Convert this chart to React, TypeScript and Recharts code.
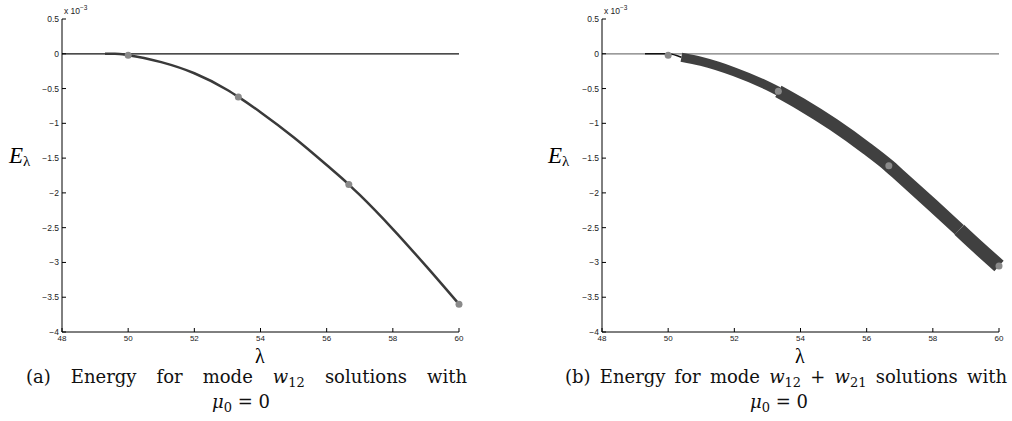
import React from "react"
import { ComposedChart, Line, Scatter, XAxis, YAxis, ReferenceLine } from "recharts"

// energy values are in units of 1e-3
const lambdaA = [49.3, 49.6, 50, 51, 52, 53, 53.33, 54, 55, 56, 56.67, 57, 58, 59, 60]
const energyA = [0, 0, -0.02, -0.12, -0.28, -0.52, -0.62, -0.84, -1.2, -1.6, -1.88, -2.03, -2.52, -3.05, -3.6]

const lambdaB = [49.3, 49.7, 50, 50.4, 51, 52, 53, 53.33, 54, 55, 56, 56.67, 57, 58, 58.8, 59, 60]
const energyB = [0, 0, 0, -0.05, -0.11, -0.26, -0.46, -0.54, -0.72, -1.02, -1.36, -1.61, -1.75, -2.18, -2.53, -2.62, -3.05]
// where the wide branches of (b) begin
const segmentStartsB = [49.3, 50.4, 53.33, 58.8, 60]
const segmentWidthsB = [1.5, 9, 13, 14]

const markerLambda = [50, 53.33, 56.67, 60]
const markerA = [-0.02, -0.62, -1.88, -3.6]
const markerB = [-0.02, -0.54, -1.61, -3.05]

const xTicks = [48, 50, 52, 54, 56, 58, 60]
const yTicks = [-4, -3.5, -3, -2.5, -2, -1.5, -1, -0.5, 0, 0.5]

const zip = (xs: number[], ys: number[]) => xs.map((x, i) => ({ x, y: ys[i] }))

const tickFont = "'Liberation Sans', Arial, sans-serif"
const serif = "'DejaVu Serif', 'Liberation Serif', serif"

const XTick = (props: any) => {
  const { x, y, payload } = props
  return (
    <g>
      <line x1={x} x2={x} y1={y} y2={y - 4} stroke="#000" />
      <text x={x} y={y + 9} textAnchor="middle" fontSize={8} fontFamily={tickFont} fill="#222">
        {payload.value}
      </text>
    </g>
  )
}

const YTick = (props: any) => {
  const { x, y, payload } = props
  const label = String(payload.value).replace("-", "\u2212")
  return (
    <g>
      <line x1={x} x2={x + 4} y1={y} y2={y} stroke="#000" />
      <text x={x - 3} y={y + 3} textAnchor="end" fontSize={8.5} fontFamily={tickFont} fill="#222">
        {label}
      </text>
    </g>
  )
}

const Dot = (props: any) => <circle cx={props.cx} cy={props.cy} r={3.5} fill="#8a8a8a" />

function EnergyChart({ axisX, children, zeroColor }: { axisX: number; children: React.ReactNode; zeroColor: string }) {
  // plot box: x from axisX to axisX + 397, y from 19 (0.5) to 332 (-4)
  const yw = 40
  return (
    <ComposedChart width={506} height={345} margin={{ top: 19, right: 506 - axisX - 397, bottom: 0, left: axisX - yw }}>
      <XAxis
        dataKey="x"
        type="number"
        domain={[48, 60]}
        ticks={xTicks}
        height={13}
        tickSize={0}
        tickMargin={0}
        tick={<XTick />}
        stroke="#000"
        allowDuplicatedCategory={false}
      />
      <YAxis
        type="number"
        domain={[-4, 0.5]}
        ticks={yTicks}
        width={yw}
        tickSize={0}
        tickMargin={0}
        tick={<YTick />}
        stroke="#000"
      />
      <ReferenceLine y={0} stroke={zeroColor} strokeWidth={1.2} />
      {children}
    </ComposedChart>
  )
}

const Scale = ({ left }: { left: number }) => (
  <div style={{ position: "absolute", left, top: 5, fontFamily: tickFont, fontSize: 8.5, color: "#222", lineHeight: 1 }}>
    x 10<sup style={{ fontSize: 6.5, verticalAlign: 4 }}>{"\u22123"}</sup>
  </div>
)

const ELabel = ({ left }: { left: number }) => (
  <div style={{ position: "absolute", left, top: 144, fontFamily: "'Liberation Serif', serif", fontSize: 23, fontStyle: "italic", lineHeight: 1 }}>
    E<span style={{ fontStyle: "normal", fontSize: 15, verticalAlign: -3 }}>λ</span>
  </div>
)

const LambdaLabel = ({ left }: { left: number }) => (
  <div style={{ position: "absolute", left, top: 346, fontFamily: "'Liberation Serif', serif", fontSize: 20, lineHeight: 1 }}>λ</div>
)

export default function App() {
  const dataA = zip(lambdaA, energyA)
  const dataB = zip(lambdaB, energyB)
  const segsB = segmentWidthsB.map((w, i) => ({
    width: w,
    data: dataB.filter((d) => d.x >= segmentStartsB[i] && d.x <= segmentStartsB[i + 1]),
  }))
  const captionStyle: React.CSSProperties = {
    position: "absolute",
    fontFamily: serif,
    fontSize: 18,
    lineHeight: 1,
    textAlign: "justify",
    textAlignLast: "justify",
    whiteSpace: "nowrap",
    color: "#111",
  }
  const math: React.CSSProperties = { fontStyle: "italic" }
  const sub: React.CSSProperties = { fontSize: 13, verticalAlign: -4 }
  return (
    <div style={{ position: "absolute", left: 0, top: 0, width: 1012, height: 421, background: "#fff" }}>
      <div style={{ position: "absolute", left: 0, top: 0 }}>
        <EnergyChart axisX={62} zeroColor="#111">
          <Line data={dataA} dataKey="y" type="monotone" stroke="#3a3a3a" strokeWidth={2.5} dot={false} isAnimationActive={false} />
          <Scatter data={zip(markerLambda, markerA)} dataKey="y" shape={<Dot />} isAnimationActive={false} />
        </EnergyChart>
      </div>
      <div style={{ position: "absolute", left: 506, top: 0 }}>
        <EnergyChart axisX={96} zeroColor="#7a7a7a">
          {segsB.map((s, i) => (
            <Line
              key={i}
              data={s.data}
              dataKey="y"
              type="monotone"
              stroke={i === 0 ? "#111" : "#404040"}
              strokeWidth={s.width}
              strokeLinecap="butt"
              dot={false}
              isAnimationActive={false}
            />
          ))}
          <Scatter data={zip(markerLambda, markerB)} dataKey="y" shape={<Dot />} isAnimationActive={false} />
        </EnergyChart>
      </div>
      <Scale left={64} />
      <Scale left={604} />
      <ELabel left={9} />
      <ELabel left={548} />
      <LambdaLabel left={255} />
      <LambdaLabel left={795} />
      <div style={{ ...captionStyle, left: 26, top: 368, width: 441 }}>
        (a) Energy for mode <span style={math}>w</span>
        <span style={sub}>12</span> solutions with
      </div>
      <div style={{ ...captionStyle, left: 212, top: 393, textAlign: "left", textAlignLast: "auto" }}>
        <span style={math}>μ</span>
        <span style={sub}>0</span> = 0
      </div>
      <div style={{ ...captionStyle, left: 565, top: 368, width: 442 }}>
        (b) Energy for mode <span style={math}>w</span>
        <span style={sub}>12</span> + <span style={math}>w</span>
        <span style={sub}>21</span> solutions with
      </div>
      <div style={{ ...captionStyle, left: 750, top: 393, textAlign: "left", textAlignLast: "auto" }}>
        <span style={math}>μ</span>
        <span style={sub}>0</span> = 0
      </div>
    </div>
  )
}
